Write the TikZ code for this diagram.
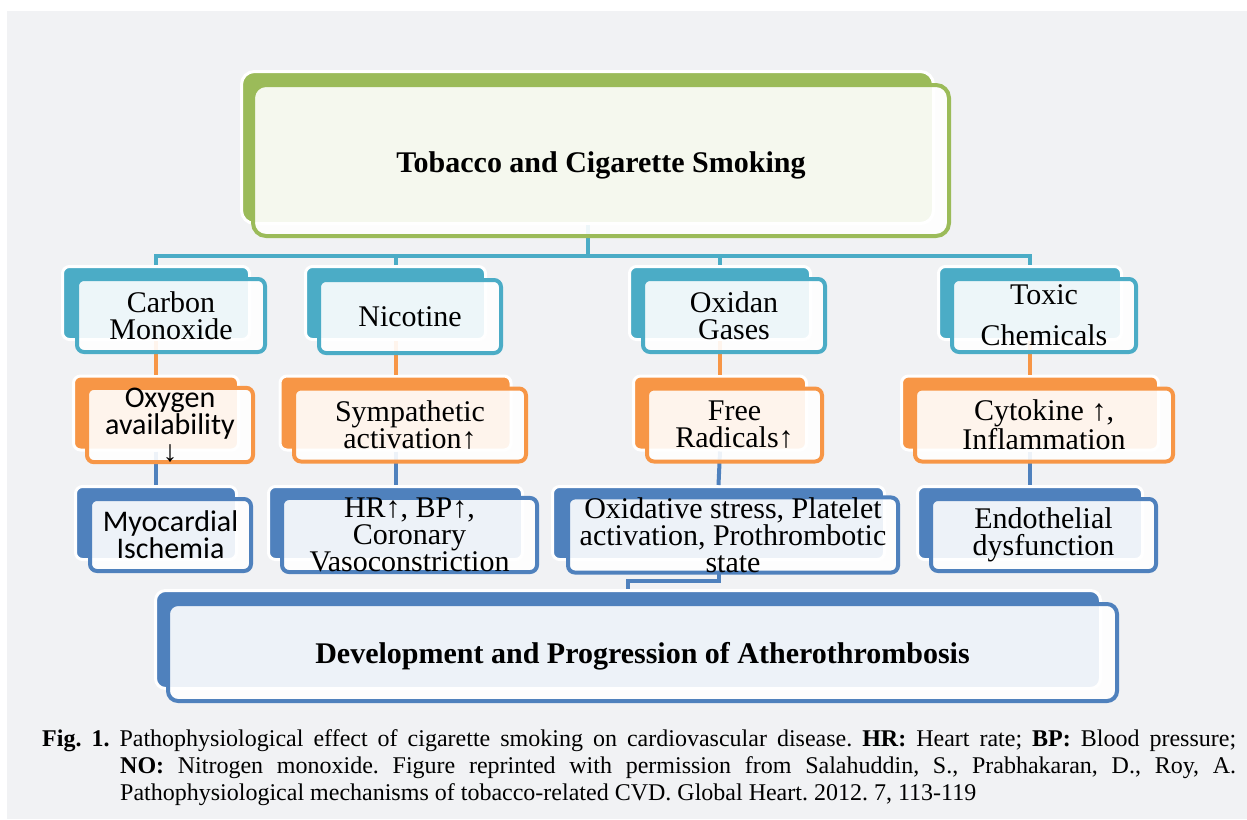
\documentclass[tikz,border=0pt]{standalone}
\usepackage{fontspec}
\setmainfont{Liberation Serif}
\newfontfamily\calibrifont{Carlito}
\definecolor{smokegreen}{HTML}{9BBB59}
\definecolor{agentteal}{HTML}{4BACC6}
\definecolor{effectorange}{HTML}{F79646}
\definecolor{damageblue}{HTML}{4F81BD}
\definecolor{panelgray}{HTML}{F1F2F4}
\begin{document}
\begin{tikzpicture}[
    x=1pt, y=-1pt,
    shadowbox/.style={rectangle, rounded corners=7pt, draw=white, line width=3pt, inner sep=0pt},
    mainbox/.style={rectangle, rounded corners=7pt, line width=4pt, fill=white, fill opacity=0.9, text opacity=1, inner sep=0pt, align=center, font=\fontsize{30}{27}\selectfont},
    link/.style={line width=4pt}
]
% Panel
\useasboundingbox (0,0) rectangle (1247,819);
\fill[panelgray] (7,11) rectangle (1247,819);

% Back plates
\node[shadowbox, fill=smokegreen, rounded corners=13pt, minimum width=692pt, minimum height=152pt] (tobb) at (587.5,147.5) {};
\node[shadowbox, fill=agentteal, minimum width=187pt, minimum height=73pt] (cob) at (156,303) {};
\node[shadowbox, fill=agentteal, minimum width=180pt, minimum height=73pt] (nib) at (395.5,303) {};
\node[shadowbox, fill=agentteal, minimum width=181pt, minimum height=73pt] (oxb) at (720,303) {};
\node[shadowbox, fill=agentteal, minimum width=183pt, minimum height=73pt] (tcb) at (1030,303) {};
\node[shadowbox, fill=effectorange, minimum width=165pt, minimum height=74pt] (oab) at (156,413) {};
\node[shadowbox, fill=effectorange, minimum width=231pt, minimum height=74pt] (sab) at (395.5,413) {};
\node[shadowbox, fill=effectorange, minimum width=173pt, minimum height=74pt] (frb) at (720,413) {};
\node[shadowbox, fill=effectorange, minimum width=257pt, minimum height=74pt] (cyb) at (1030,413) {};
\node[shadowbox, fill=damageblue, minimum width=161pt, minimum height=73pt] (mib) at (156,523) {};
\node[shadowbox, fill=damageblue, minimum width=254pt, minimum height=73pt] (hrb) at (395.5,523) {};
\node[shadowbox, fill=damageblue, minimum width=332pt, minimum height=73pt] (osb) at (718.5,523) {};
\node[shadowbox, fill=damageblue, minimum width=225pt, minimum height=73pt] (edb) at (1030,523) {};
\node[shadowbox, fill=damageblue, rounded corners=10pt, minimum width=945pt, minimum height=98pt] (atb) at (628,639.5) {};

% Links
\draw[link, draw=agentteal] (tobb.south) -- ++(0,31) coordinate (bus) -| (cob.north);
\draw[link, draw=agentteal] (bus) -| (nib.north);
\draw[link, draw=agentteal] (bus) -| (oxb.north);
\draw[link, draw=agentteal] (bus) -| (tcb.north);
\draw[link, draw=effectorange] (cob.south) -- (oab.north);
\draw[link, draw=effectorange] (nib.south) -- (sab.north);
\draw[link, draw=effectorange] (oxb.south) -- (frb.north);
\draw[link, draw=effectorange] (tcb.south) -- (cyb.north);
\draw[link, draw=damageblue] (oab.south) -- (mib.north);
\draw[link, draw=damageblue] (sab.south) -- (hrb.north);
\draw[link, draw=damageblue] (frb.south) -- (osb.north);
\draw[link, draw=damageblue] (cyb.south) -- (edb.north);
\draw[link, draw=damageblue] (osb.south) -- ++(0,20) -| (atb.north);

% Front boxes
\node[mainbox, draw=smokegreen, rounded corners=13pt, minimum width=696pt, minimum height=151pt, text height=30pt, text depth=6pt, font=\fontsize{30}{27}\selectfont\bfseries] (tob) at (601,160.5) {Tobacco and Cigarette Smoking};
\node[mainbox, draw=agentteal, minimum width=188pt, minimum height=73pt] (co) at (171,315.5) {Carbon\\Monoxide};
\node[mainbox, draw=agentteal, minimum width=182pt, minimum height=73pt] (ni) at (410,316.5) {Nicotine};
\node[mainbox, draw=agentteal, minimum width=182pt, minimum height=73pt] (ox) at (734,315.5) {Oxidan\\Gases};
\node[mainbox, draw=agentteal, minimum width=184pt, minimum height=73pt] (tc) at (1044,315.5) {Toxic\\[14pt]Chemicals};
\node[mainbox, draw=effectorange, minimum width=166pt, minimum height=73pt] (oa) at (170,425) {{\calibrifont Oxygen}\\{\calibrifont availability}\\↓};
\node[mainbox, draw=effectorange, minimum width=232pt, minimum height=73pt] (sa) at (410,425) {Sympathetic\\activation↑};
\node[mainbox, draw=effectorange, minimum width=175pt, minimum height=73pt] (fr) at (734.5,425) {Free\\Radicals↑};
\node[mainbox, draw=effectorange, minimum width=258pt, minimum height=73pt] (cy) at (1044,425) {Cytokine ↑,\\Inflammation};
\node[mainbox, draw=damageblue, minimum width=161pt, minimum height=72pt, font=\fontsize{30}{27}\calibrifont] (mi) at (170.5,535) {Myocardial\\Ischemia};
\node[mainbox, draw=damageblue, minimum width=255pt, minimum height=72pt] (hr) at (409.5,535) {HR↑, BP↑,\\Coronary\\Vasoconstriction};
\node[mainbox, draw=damageblue, minimum width=330pt, minimum height=72pt] (os) at (733,535) {Oxidative stress, Platelet\\activation, Prothrombotic\\state};
\node[mainbox, draw=damageblue, minimum width=225pt, minimum height=72pt] (ed) at (1043.5,535) {Endothelial\\dysfunction};
\node[mainbox, draw=damageblue, rounded corners=10pt, minimum width=949pt, minimum height=97pt, text height=28pt, text depth=6pt, font=\fontsize{30}{27}\selectfont\bfseries] (at) at (642.5,652.5) {Development and Progression of Atherothrombosis};

% Caption
\node[anchor=north west, inner sep=0pt, font=\fontsize{24}{27}\selectfont] (caption) at (42,729)
    {\parbox[t]{1194pt}{\frenchspacing\noindent\hangindent=78pt\hangafter=1 \textbf{Fig. 1.} Pathophysiological effect of cigarette smoking on cardiovascular disease. \textbf{HR:} Heart rate; \textbf{BP:} Blood pressure;\linebreak
    \textbf{NO:} Nitrogen monoxide. Figure reprinted with permission from Salahuddin, S., Prabhakaran, D., Roy, A.\linebreak
    Pathophysiological mechanisms of tobacco-related CVD. Global Heart. 2012. 7, 113-119}};
\end{tikzpicture}
\end{document}
